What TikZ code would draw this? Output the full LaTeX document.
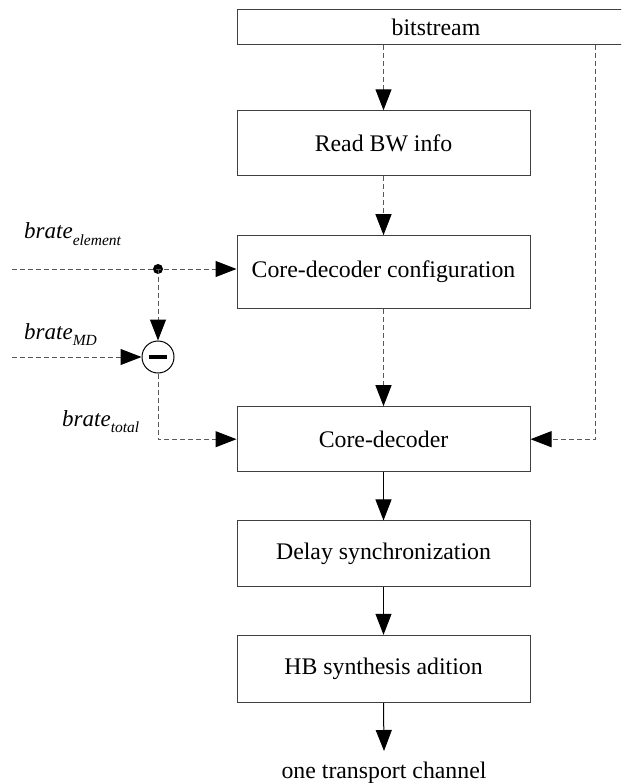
\documentclass[tikz,border=0pt]{standalone}
\usepackage{fontspec}
\setmainfont{Liberation Serif}
\usetikzlibrary{arrows.meta,calc}
\newcommand\mysub[1]{\raisebox{-6.5pt}{\fontsize{15.5}{18}\selectfont #1}}
\begin{document}
\begin{tikzpicture}[x=1pt,y=-1pt,
  blk/.style={draw=black!75, line width=1pt, minimum width=293pt, inner sep=0pt,
    font=\fontsize{23.8}{28}\selectfont},
  tip/.style={-{Triangle[length=21pt,width=16pt,color=black]}},
  sld/.style={draw=black, line width=1pt},
  dsh/.style={draw=black!65, line width=1pt, dash pattern=on 5pt off 3pt},
  lbl/.style={anchor=base west, inner sep=0pt, font=\fontsize{23}{28}\selectfont\itshape}]
\useasboundingbox (0,0) rectangle (621,783);
\clip (0,0) rectangle (621,783);
% blocks
\node[blk, minimum width=398pt, minimum height=35pt] (bs) at (436,27.5) {bitstream};
\node[blk, minimum height=65pt] (rbw) at (383.5,143.3) {Read BW info};
\node[blk, minimum height=72.6pt] (cdc) at (383.5,272) {Core-decoder configuration};
\node[blk, minimum height=65pt] (cd) at (383.5,439.2) {Core-decoder};
\node[blk, minimum height=65.7pt] (ds) at (383.5,553.8) {Delay synchronization};
\node[blk, minimum height=67.4pt] (hb) at (383.5,669) {HB synthesis adition};
\node[anchor=base, inner sep=0pt, font=\fontsize{23.8}{28}\selectfont] (out) at (384,778) {one transport channel};
\coordinate (outtip) at (384,751);
% subtractor
\node[circle, draw=black, line width=1pt, minimum size=32pt, inner sep=0pt] (sub) at (158,357) {};
\draw[line width=3.5pt] ($(sub.center)+(-9,0)$) -- ($(sub.center)+(9,0)$);
\coordinate (dot) at (158,269);
\fill (dot) circle (5pt);
\coordinate (inE) at (12,269);
\coordinate (inM) at (12,357);
\coordinate (rt) at (595.7,45);
% labels
\node[lbl] (lE) at (24,239) {brate\mysub{element}};
\node[lbl] (lM) at (24,339.3) {brate\mysub{MD}};
\node[lbl] (lT) at (62,426) {brate\mysub{total}};
% dashed connectors
\draw[dsh, tip] (rbw.north |- bs.south) -- (rbw.north);
\draw[dsh, tip] (rbw.south) -- (cdc.north);
\draw[dsh, tip] (cdc.south) -- (cd.north);
\draw[dsh, tip] (inE) -- (inE -| cdc.west);
\draw[dsh, tip] (dot) -- (sub.north);
\draw[dsh, tip] (inM) -- (sub.west);
\draw[dsh, tip] (sub.south) |- (cd.west);
\draw[dsh, tip] (rt) |- (cd.east);
% solid connectors
\draw[sld, tip] (cd.south) -- (ds.north);
\draw[sld, tip] (ds.south) -- (hb.north);
\draw[sld, tip] (hb.south) -- (outtip);
\end{tikzpicture}
\end{document}
